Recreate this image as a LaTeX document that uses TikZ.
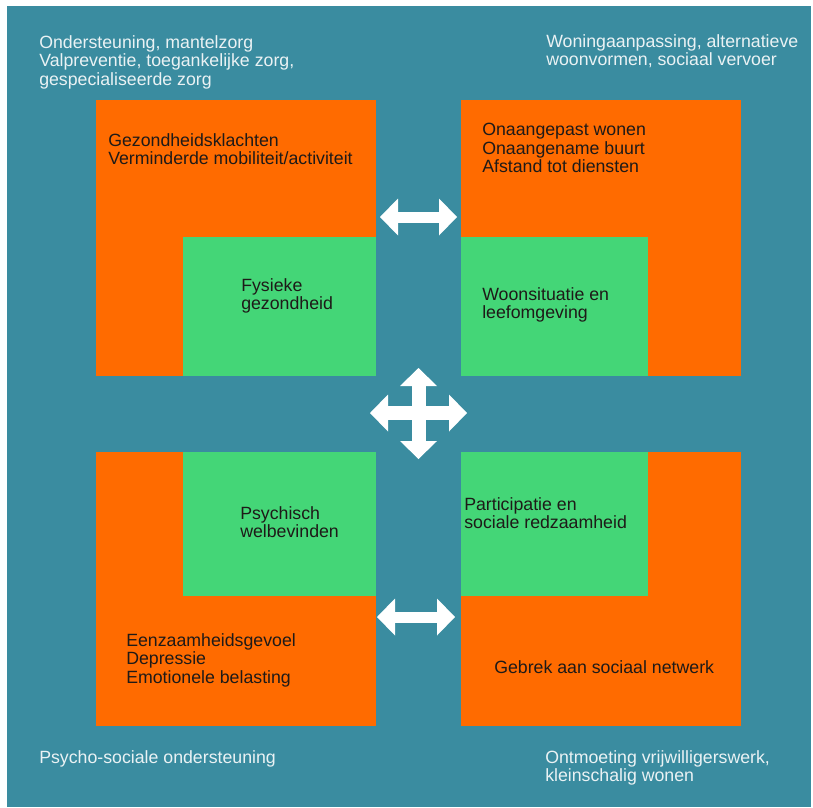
\documentclass[tikz,border=0pt]{standalone}
\usepackage{fontspec}
\setmainfont{Liberation Sans}
\usetikzlibrary{arrows.meta}
\definecolor{bgteal}{RGB}{58,140,160}
\definecolor{boxorange}{RGB}{255,107,0}
\definecolor{boxgreen}{RGB}{68,214,119}
\definecolor{lighttext}{RGB}{234,242,244}
\definecolor{darktext}{RGB}{30,26,24}
\begin{document}
\begin{tikzpicture}[x=0.75pt, y=-0.75pt, >={Triangle[length=13.5pt, width=27.75pt, line width=0pt]},
	every box/.style={anchor=north west, inner sep=0, outer sep=0},
	outer box/.style={every box, fill=boxorange},
	inner box/.style={every box, fill=boxgreen},
	every label text/.style={anchor=north west, inner sep=0, align=left, font=\fontsize{13.3}{14}\selectfont},
	side text/.style={every label text, text=lighttext},
	box text/.style={every label text, text=darktext},
	link/.style={<->, white, line width=8.25pt}]
	\centering
	
	\fill [white] (0,0) rectangle (813,807);
	\fill [bgteal] (7,6) rectangle (811,807);
	\useasboundingbox (0,0) rectangle (813,807);
	
	% orange and green boxes
	\foreach \m/\x/\y/\h in {fys/96/100/276, woon/461/100/276, psy/96/452/274, soc/461/452/274}
	\node [outer box, minimum width=280*0.75pt, minimum height=\h*0.75pt] (out-\m) at (\x,\y) {};
	
	\foreach \m/\x/\y/\w/\h in {fys/183/237/193/139, woon/461/237/187/139, psy/183/452/193/144, soc/461/452/187/144}
	\node [inner box, minimum width=\w*0.75pt, minimum height=\h*0.75pt] (in-\m) at (\x,\y) {};
	
	% texts outside the boxes
	\node [side text] (side-fys) at (39,35) {Ondersteuning, mantelzorg\\Valpreventie, toegankelijke zorg,\\gespecialiseerde zorg};
	\node [side text] (side-woon) at (546,34) {Woningaanpassing, alternatieve\\woonvormen, sociaal vervoer};
	\node [side text] (side-psy) at (39,750) {Psycho-sociale ondersteuning};
	\node [side text] (side-soc) at (545,750) {Ontmoeting vrijwilligerswerk,\\kleinschalig wonen};
	
	% texts in the boxes
	\node [box text] (txt-fys) at (108,133) {Gezondheidsklachten\\Verminderde mobiliteit/activiteit};
	\node [box text] (txt-woon) at (482,123) {Onaangepast wonen\\Onaangename buurt\\Afstand tot diensten};
	\node [box text] (txt-psy) at (126,633) {Eenzaamheidsgevoel\\Depressie\\Emotionele belasting};
	\node [box text] (txt-soc) at (494,660) {Gebrek aan sociaal netwerk};
	
	\node [box text] (lbl-fys) at (241,278) {Fysieke\\gezondheid};
	\node [box text] (lbl-woon) at (482,287) {Woonsituatie en\\leefomgeving};
	\node [box text] (lbl-psy) at (240,506) {Psychisch\\welbevinden};
	\node [box text] (lbl-soc) at (464,497) {Participatie en\\sociale redzaamheid};
	
	% arrows
	\coordinate (top-l) at (380,217);
	\coordinate (top-r) at (457,217);
	\coordinate (bot-l) at (377,617);
	\coordinate (bot-r) at (455,617);
	\coordinate (mid-l) at (370,413);
	\coordinate (mid-r) at (467,413);
	\coordinate (mid-t) at (418.5,368);
	\coordinate (mid-b) at (418.5,459);
	
	\draw [link] (top-l) -- (top-r);
	\draw [link] (bot-l) -- (bot-r);
	\draw [link, line width=10.5pt] (mid-l) -- (mid-r);
	\draw [link, line width=10.5pt] (mid-t) -- (mid-b);
\end{tikzpicture}
\end{document}
